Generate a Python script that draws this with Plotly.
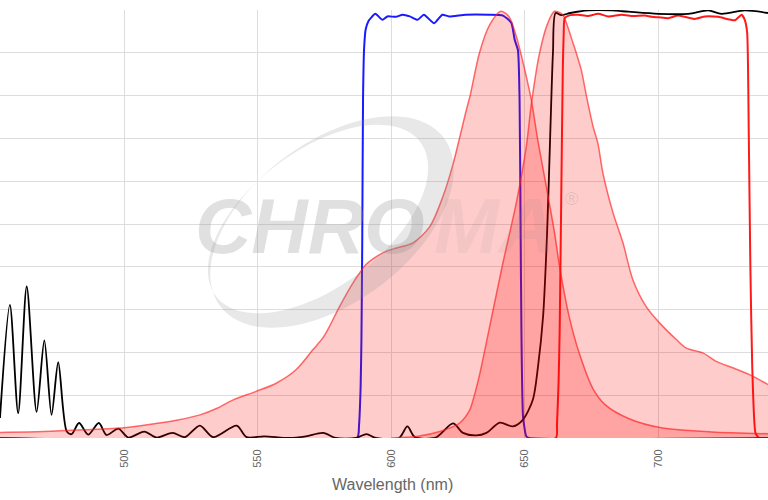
import numpy as np
import plotly.graph_objects as go

# ---------------- data (wavelength nm, %) ----------------
black_nm = [453.5, 457.2, 460.3, 463.5, 467.2, 470.1, 472.8, 475.3, 478.5, 480.3, 483.1, 486.5,
            490.5, 493.4, 497.8, 501.5, 507.5, 512.1, 518.1, 522.7, 528.3, 533.3, 542.1, 545.8,
            552.4, 561.7, 568.0, 574.5, 579.2, 586.7, 590.7, 594.2, 602.9, 606.0, 608.8, 616.6,
            623.1, 626.8, 631.8, 635.6, 640.6, 645.5, 649.3, 653.0, 654.9, 656.8, 658.3, 659.5,
            660.5, 661.5, 663.6, 667.0, 673.7, 682.5, 688.7, 699.9, 711.2, 718.6, 723.6, 732.3, 741.0]
black_val = [4.7, 31.1, 5.8, 35.4, 6.1, 22.8, 5.4, 17.7, 1.5, 0.9, 3.5, 0.8,
             3.5, 0.7, 2.2, 0.1, 1.5, 0.1, 1.2, 0.2, 2.9, 0.2, 2.9, 0.2,
             0.4, 0.0, 0.4, 1.2, 0.0, 0.0, 0.9, 0.0, 0.0, 2.7, 0.2, 0.1,
             3.4, 1.2, 0.6, 1.2, 3.6, 2.7, 4.3, 9.0, 16.7, 28.4, 47.9, 71.3,
             90.0, 99.3, 98.8, 99.3, 99.9, 99.9, 99.6, 99.1, 99.1, 99.9, 99.1, 99.9, 99.3]

blue_nm = [453.5, 587.2, 587.9, 588.5, 588.8, 589.1, 589.4, 589.8, 590.4, 591.5, 592.3, 594.0,
           596.7, 598.5, 601.7, 604.2, 606.9, 609.8, 612.2, 616.0, 619.1, 621.6, 627.8, 636.6,
           641.8, 644.9, 646.2, 647.4, 648.0, 648.4, 648.7, 649.3, 650.5, 651.5, 741.0]
blue_val = [0, 0, 3, 12, 23, 45, 79, 91, 95.5, 97.5, 98.1, 99.1,
            97.7, 98.5, 98.4, 98.9, 98.5, 97.7, 98.9, 96.9, 98.9, 98.5, 98.9, 98.9,
            98.7, 97.0, 93.0, 90.6, 79, 48, 24.6, 5, 0.4, 0, 0]

red_nm = [453.5, 661.6, 662.0, 662.6, 663.0, 663.6, 664.2, 664.5, 664.9, 667.0, 670.0, 673.5,
          677.5, 681.2, 686.2, 690.5, 694.9, 697.4, 700.0, 703.7, 707.4, 713.6, 717.4, 722.4,
          728.6, 731.1, 732.3, 733.2, 733.8, 734.4, 735.1, 736.3, 737.6, 741.0]
red_val = [0, 0, 3, 13, 24.6, 56, 86.8, 94, 98.1, 98.8, 98.9, 98.6,
           99.1, 98.5, 98.9, 98.6, 98.7, 98.4, 98.3, 98.1, 98.7, 97.9, 98.5, 98.4,
           97.6, 98.9, 97.7, 94.7, 71, 40, 16.7, 1.2, 0, 0]

exc_nm = [453.5, 470, 485, 500, 510, 520, 528.4, 535, 540.8, 549.4, 556.9, 564.4, 570.6, 574.5,
          576.8, 580.6, 585.6, 588.2, 590.6, 594.4, 598.0, 601.9, 608.1, 614.4, 619.3, 623.1,
          628.1, 629.5, 633.0, 636.8, 641.0, 644.0, 646.8, 650.5, 652.4, 654.9, 658.0, 661.1,
          663.0, 666.7, 670.5, 675.5, 680.0, 689.0, 701.0, 720.0, 741.0]
exc_val = [1.3, 1.5, 1.9, 2.4, 3.2, 4.2, 5.4, 7.0, 8.9, 10.9, 12.8, 16.0, 20.6, 23.5,
           26.0, 30.7, 36.2, 38.6, 40.6, 42.4, 43.6, 44.4, 45.6, 49.4, 56.4, 64.0,
           76.7, 80.0, 90.0, 96.5, 99.7, 98.5, 93.8, 84.5, 79.0, 69.3, 58.8, 47.9,
           40.0, 28.0, 19.5, 11.5, 7.8, 4.5, 2.4, 1.4, 1.0]

em_nm = [600, 610, 618.1, 625.6, 629.3, 630.6, 633.1, 636.8, 641.8, 646.8, 650.5, 652.4, 655.5,
         658.6, 661.1, 664.2, 665.5, 668.0, 669.2, 671.1, 673.0, 675.5, 677.3, 679.2, 683.0,
         686.7, 690.4, 695.4, 700.4, 706.7, 710.4, 716.6, 721.6, 727.8, 734.1, 741.0]
em_val = [0, 0.4, 1.5, 3.5, 6.5, 8.9, 15, 26, 41, 55, 68, 78, 90,
          97, 99.7, 98.9, 97, 92.3, 90, 86, 80, 72.8, 68.9, 61.9, 52.6,
          45.6, 37, 30.7, 26.9, 23, 21, 19.9, 17.9, 16.4, 14.8, 12.5]

x_ticks = [500, 550, 600, 650, 700]

# ---------------- figure ----------------
W, H = 768, 500
ML, MR, MT, MB = 0, 0, 10, 62
PW, PH = W - ML - MR, H - MT - MB


def px2paper(px, py):
    return (px - ML) / PW, (H - MB - py) / PH


fig = go.Figure()
fig.add_trace(go.Scatter(x=red_nm, y=red_val, mode="lines",
                         line=dict(color="#ff1a1a", width=2, shape="spline", smoothing=0.5),
                         hoverinfo="skip"))
fig.add_trace(go.Scatter(x=blue_nm, y=blue_val, mode="lines",
                         line=dict(color="#1a1aff", width=2, shape="spline", smoothing=0.5),
                         hoverinfo="skip"))
fig.add_trace(go.Scatter(x=black_nm, y=black_val, mode="lines",
                         line=dict(color="#000000", width=1.8, shape="spline", smoothing=0.8),
                         hoverinfo="skip"))
fig.add_trace(go.Scatter(x=exc_nm, y=exc_val, mode="lines", fill="tozeroy",
                         fillcolor="rgba(255,0,0,0.2)",
                         line=dict(color="rgba(255,30,30,0.65)", width=1.5, shape="spline", smoothing=0.8),
                         hoverinfo="skip"))
fig.add_trace(go.Scatter(x=em_nm, y=em_val, mode="lines", fill="tozeroy",
                         fillcolor="rgba(255,0,0,0.2)",
                         line=dict(color="rgba(255,30,30,0.65)", width=1.5, shape="spline", smoothing=0.8),
                         hoverinfo="skip"))

# ---------------- watermark (decoration) ----------------
def ellipse_pts(cx, cy, a, b, ang_deg, n=90):
    t = np.linspace(0, 2 * np.pi, n, endpoint=False)
    ang = np.radians(ang_deg)
    ux, uy = np.cos(ang), -np.sin(ang)
    vx, vy = np.sin(ang), np.cos(ang)
    xs = cx + a * np.cos(t) * ux + b * np.sin(t) * vx
    ys = cy + a * np.cos(t) * uy + b * np.sin(t) * vy
    return xs, ys


def path_from(xs, ys):
    parts = []
    for i, (x, y) in enumerate(zip(xs, ys)):
        px, py = px2paper(x, y)
        parts.append(("M" if i == 0 else "L") + f"{px:.4f},{py:.4f}")
    return " ".join(parts) + " Z"


ox, oy = ellipse_pts(332, 222, 140, 80, 37)
ix, iy = ellipse_pts(318, 219, 128, 68, 37)
swoosh = path_from(ox, oy) + " " + path_from(ix, iy)
fig.add_shape(type="path", path=swoosh, xref="paper", yref="paper",
              fillcolor="rgba(140,140,140,0.2)", line=dict(width=0),
              fillrule="evenodd", layer="above")

wm_font = dict(family="Liberation Sans, Arial", size=78, style="italic", weight="bold")
cx, cy = px2paper(310, 226)
fig.add_annotation(text="CHRO", x=cx, y=cy, xref="paper", yref="paper", showarrow=False,
                   xanchor="center", yanchor="middle",
                   font=dict(color="rgba(140,140,140,0.27)", **wm_font))
mx, my = px2paper(494, 226)
fig.add_annotation(text="MA", x=mx, y=my, xref="paper", yref="paper", showarrow=False,
                   xanchor="center", yanchor="middle",
                   font=dict(color="rgba(140,140,140,0.1)", **wm_font))
rx, ry = px2paper(580, 199)
fig.add_annotation(text="®", x=rx, y=ry, xref="paper", yref="paper", showarrow=False,
                   font=dict(color="rgba(140,140,140,0.25)", size=18, family="Liberation Sans, Arial"))

# axis title
tx, ty = px2paper(392, 484)
fig.add_annotation(text="Wavelength (nm)", x=tx, y=ty, xref="paper", yref="paper", showarrow=False,
                   xanchor="center", yanchor="middle",
                   font=dict(color="#666666", size=16, family="Liberation Sans, Arial"))

fig.update_layout(
    width=W, height=H,
    margin=dict(l=ML, r=MR, t=MT, b=MB, pad=0),
    paper_bgcolor="white", plot_bgcolor="white",
    showlegend=False,
    font=dict(family="Liberation Sans, Arial", color="#666666"),
)
fig.update_xaxes(range=[453.5, 741.0], tickvals=x_ticks, ticktext=[str(v) for v in x_ticks],
                 tickangle=-90, tickfont=dict(size=11, color="#666666"),
                 ticks="outside", ticklen=6, tickcolor="rgba(0,0,0,0)",
                 showgrid=True, gridcolor="#dddddd", gridwidth=1,
                 zeroline=False, showline=False)
fig.update_yaxes(range=[0, 100], dtick=10, showticklabels=False,
                 showgrid=True, gridcolor="#dddddd", gridwidth=1,
                 zeroline=False, showline=False)

fig.write_html("out.html")
